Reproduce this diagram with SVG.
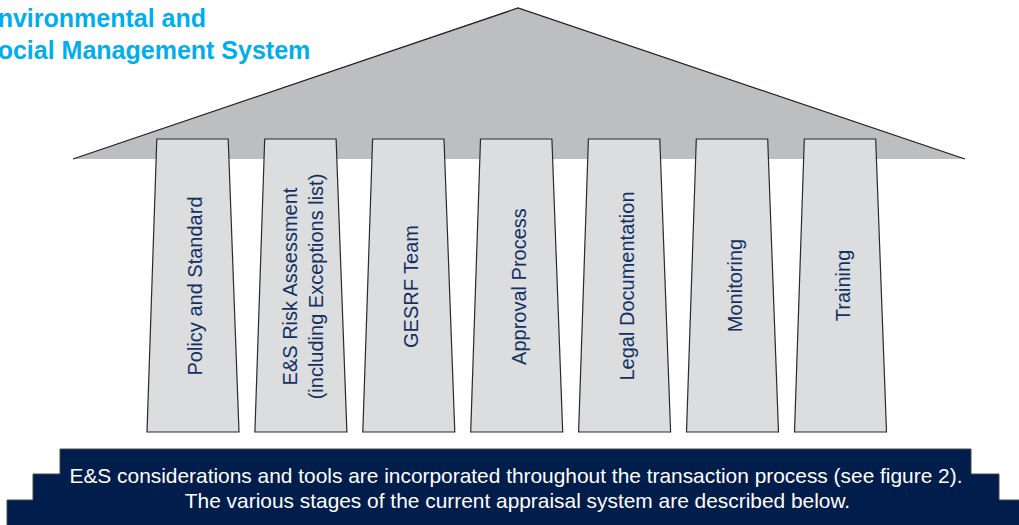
<svg xmlns="http://www.w3.org/2000/svg" width="1019" height="525" viewBox="0 0 1019 525">
<style>
.title{font-family:"Liberation Sans",Arial,sans-serif;font-weight:bold;font-size:25px;fill:#00AEEF}
.pillar{fill:#DCDDDF;stroke:#2a2a2a;stroke-width:1.2;stroke-linejoin:miter}
.plabel{font-family:"Liberation Sans",Arial,sans-serif;font-size:20px;fill:#13305F;text-anchor:middle}
.base{fill:#011D4B;stroke:#4a4a4a;stroke-width:1}
.btext{font-family:"Liberation Sans",Arial,sans-serif;font-size:20.9px;fill:#FFFFFF;text-anchor:middle}
</style>
<rect width="1019" height="525" fill="#FFFFFF"/>
<g id="title">
<text class="title" x="-19" y="27">Environmental and</text>
<text class="title" x="-19" y="59">Social Management System</text>
</g>
<g id="roof">
<polygon points="73,159 518,8 965,159" fill="#BCBEC0"/>
<polyline points="73,159 518,8 965,159" fill="none" stroke="#231F20" stroke-width="1.3"/>
</g>
<g id="connectors"></g>
<g id="pillar-policy">
<polygon class="pillar" points="156.8,139 228.2,139 239,432 147,432"/>
<text class="plabel" transform="translate(202,286) rotate(-90)">Policy and Standard</text>
</g>
<g id="pillar-risk">
<polygon class="pillar" points="264.7,139 336.1,139 346.9,432 254.9,432"/>
<text class="plabel" transform="translate(297,286.5) rotate(-90)">E&amp;S Risk Assessment</text>
<text class="plabel" transform="translate(323,286.5) rotate(-90)">(including Exceptions list)</text>
</g>
<g id="pillar-gesrf">
<polygon class="pillar" points="372.6,139 444,139 454.8,432 362.8,432"/>
<text class="plabel" transform="translate(418,286.5) rotate(-90)">GESRF Team</text>
</g>
<g id="pillar-approval">
<polygon class="pillar" points="480.5,139 551.9,139 562.7,432 470.7,432"/>
<text class="plabel" transform="translate(525.5,286.5) rotate(-90)">Approval Process</text>
</g>
<g id="pillar-legal">
<polygon class="pillar" points="588.4,139 659.8,139 670.6,432 578.6,432"/>
<text class="plabel" transform="translate(633.5,286) rotate(-90)">Legal Documentation</text>
</g>
<g id="pillar-monitoring">
<polygon class="pillar" points="696.3,139 767.7,139 778.5,432 686.5,432"/>
<text class="plabel" transform="translate(741.7,285.5) rotate(-90)">Monitoring</text>
</g>
<g id="pillar-training">
<polygon class="pillar" points="804.3,139 875.7,139 886.5,432 794.5,432"/>
<text class="plabel" transform="translate(850,285.5) rotate(-90)">Training</text>
</g>
<g id="base">
<polygon class="base" points="60,449 971,449 971,474 999,474 999,500 1020,500 1020,526 7,526 7,500 33,500 33,474 60,474"/>
<text class="btext" x="516" y="483">E&amp;S considerations and tools are incorporated throughout the transaction process (see figure 2).</text>
<text class="btext" x="517.5" y="508">The various stages of the current appraisal system are described below.</text>
</g>
</svg>
